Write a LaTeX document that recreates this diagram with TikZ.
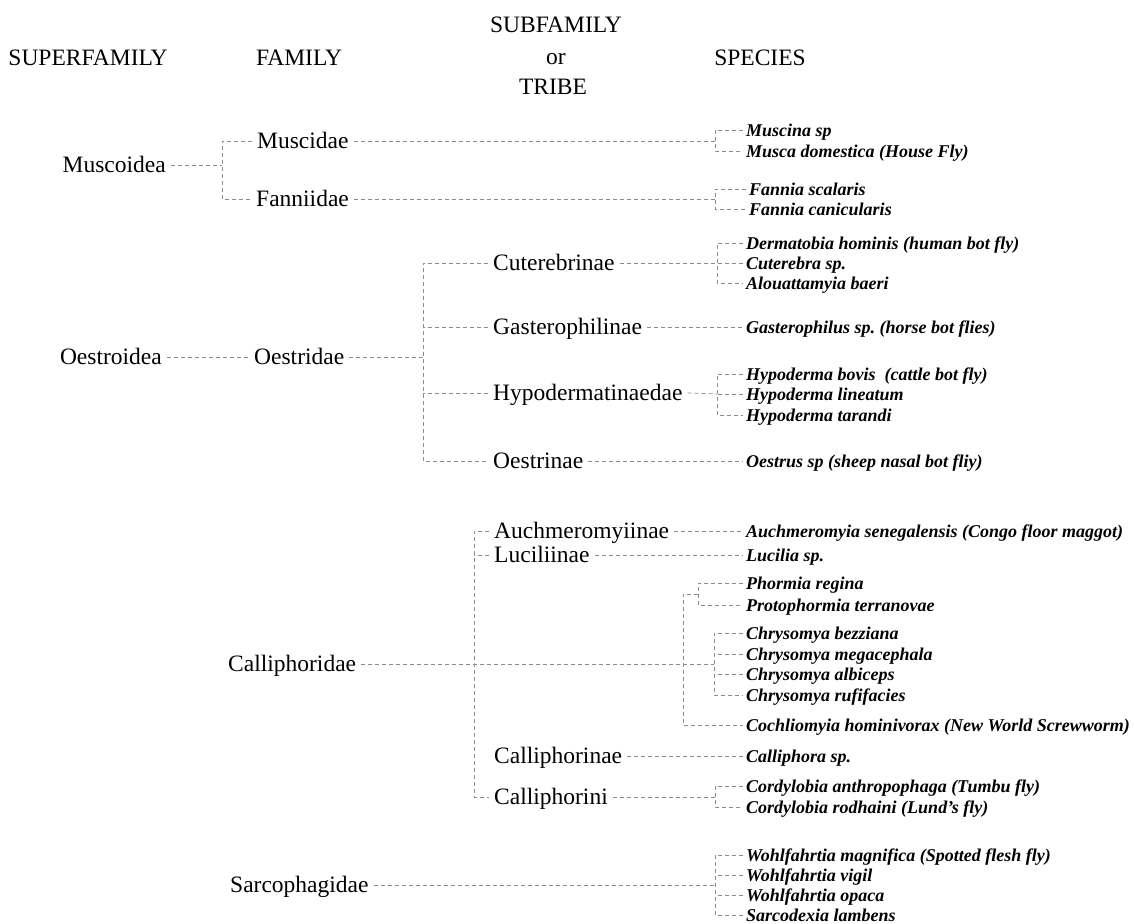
\documentclass[tikz,border=0pt]{standalone}
\usepackage{fontspec}
\setmainfont{Liberation Serif}
\frenchspacing
\tikzset{
  lab/.style={font=\fontsize{23.5}{27}\selectfont, inner ysep=0pt, inner xsep=5pt, text height=15.8pt, text depth=0pt},
  hdr/.style={lab, inner xsep=0pt, anchor=center},
  sp/.style={font=\fontsize{18}{21}\selectfont\bfseries\itshape, inner ysep=0pt, inner xsep=3pt, text height=12.2pt, text depth=0pt, anchor=west},
  ln/.style={draw=black!45, dash pattern=on 4pt off 3pt, line width=0.7pt},
}
\begin{document}
\begin{tikzpicture}[x=1pt,y=-1pt]
\useasboundingbox (0,0) rectangle (1134,923);
% headers
\node[hdr] (hSup) at (88,58) {SUPERFAMILY};
\node[hdr] (hFam) at (299,58) {FAMILY};
\node[hdr] (hSub) at (556,25) {SUBFAMILY};
\node[hdr] (hOr) at (556,57) {or};
\node[hdr] (hTri) at (553,87) {TRIBE};
\node[hdr] (hSpe) at (760,58) {SPECIES};
% superfamilies
\node[lab, anchor=east] (Muscoidea) at (171,165) {Muscoidea};
\node[lab, anchor=east] (Oestroidea) at (167,357) {Oestroidea};
% families
\node[lab, anchor=west] (Muscidae) at (252,141) {Muscidae};
\node[lab, anchor=west] (Fanniidae) at (251,199) {Fanniidae};
\node[lab, anchor=west] (Oestridae) at (249,357) {Oestridae};
\node[lab, anchor=west] (Calliphoridae) at (223,664) {Calliphoridae};
\node[lab, anchor=west] (Sarcophagidae) at (225,885) {Sarcophagidae};
% subfamilies
\node[lab, anchor=west] (Cuterebrinae) at (488,263) {Cuterebrinae};
\node[lab, anchor=west] (Gasterophilinae) at (488,327) {Gasterophilinae};
\node[lab, anchor=west] (Hypodermatinaedae) at (488,393) {Hypodermatinaedae};
\node[lab, anchor=west] (Oestrinae) at (488,461) {Oestrinae};
\node[lab, anchor=west] (Auchmeromyiinae) at (489,531) {Auchmeromyiinae};
\node[lab, anchor=west] (Luciliinae) at (489,555) {Luciliinae};
\node[lab, anchor=west] (Calliphorinae) at (489,756) {Calliphorinae};
\node[lab, anchor=west] (Calliphorini) at (489,797) {Calliphorini};
% species
\node[sp] (sMuscina) at (743,130) {Muscina sp};
\node[sp] (sMusca) at (743,151) {Musca domestica (House Fly)};
\node[sp] (sFanSca) at (746,189) {Fannia scalaris};
\node[sp] (sFanCan) at (746,209) {Fannia canicularis};
\node[sp] (sDerm) at (743,243) {Dermatobia hominis (human bot fly)};
\node[sp] (sCute) at (743,263) {Cuterebra sp.};
\node[sp] (sAlou) at (743,283) {Alouattamyia baeri};
\node[sp] (sGast) at (743,327) {Gasterophilus sp. (horse bot flies)};
\node[sp] (sHypBov) at (743,374) {Hypoderma bovis~ (cattle bot fly)};
\node[sp] (sHypLin) at (743,394) {Hypoderma lineatum};
\node[sp] (sHypTar) at (743,415) {Hypoderma tarandi};
\node[sp] (sOest) at (743,461) {Oestrus sp (sheep nasal bot fliy)};
\node[sp] (sAuch) at (743,531) {Auchmeromyia senegalensis (Congo floor maggot)};
\node[sp] (sLuc) at (743,555) {Lucilia sp.};
\node[sp] (sPhor) at (743,583) {Phormia regina};
\node[sp] (sProt) at (743,605) {Protophormia terranovae};
\node[sp] (sChr1) at (743,633) {Chrysomya bezziana};
\node[sp] (sChr2) at (743,654) {Chrysomya megacephala};
\node[sp] (sChr3) at (743,674) {Chrysomya albiceps};
\node[sp] (sChr4) at (743,695) {Chrysomya rufifacies};
\node[sp] (sCoch) at (743,725) {Cochliomyia hominivorax (New World Screwworm)};
\node[sp] (sCall) at (743,756) {Calliphora sp.};
\node[sp] (sCor1) at (743,786) {Cordylobia anthropophaga (Tumbu fly)};
\node[sp] (sCor2) at (743,807) {Cordylobia rodhaini (Lund's fly)};
\node[sp] (sW1) at (743,855) {Wohlfahrtia magnifica (Spotted flesh fly)};
\node[sp] (sW2) at (743,875) {Wohlfahrtia vigil};
\node[sp] (sW3) at (743,895) {Wohlfahrtia opaca};
\node[sp] (sSarc) at (743,915) {Sarcodexia lambens};
% junctions
\coordinate (jMuscoidea) at (222,165);
\coordinate (jMuscidae) at (715,141);
\coordinate (jFanniidae) at (715,199);
\coordinate (jOestridae) at (423,357);
\coordinate (jCute) at (717,263);
\coordinate (jHypo) at (717,394);
\coordinate (jCalSub) at (474,664);
\coordinate (jCalGen) at (683,664);
\coordinate (jPhor) at (698,594);
\coordinate (jChr) at (714,664);
\coordinate (jCor) at (715,797);
\coordinate (jSar) at (715,885);
% Muscoidea
\draw[ln] (Muscoidea.east) -- (jMuscoidea);
\draw[ln] (Muscidae.west) -| (jMuscoidea) |- (Fanniidae.west);
\draw[ln] (Muscidae.east) -- (jMuscidae);
\draw[ln] (sMuscina.west) -| (jMuscidae) |- (sMusca.west);
\draw[ln] (Fanniidae.east) -- (jFanniidae);
\draw[ln] (sFanSca.west) -| (jFanniidae) |- (sFanCan.west);
% Oestroidea
\draw[ln] (Oestroidea.east) -- (Oestridae.west);
\draw[ln] (Oestridae.east) -- (jOestridae);
\draw[ln] (Cuterebrinae.west) -| (jOestridae) |- (Oestrinae.west);
\draw[ln] (Gasterophilinae.west) -- (Gasterophilinae.west -| jOestridae);
\draw[ln] (Hypodermatinaedae.west) -- (Hypodermatinaedae.west -| jOestridae);
\draw[ln] (Cuterebrinae.east) -- (jCute);
\draw[ln] (sDerm.west) -| (jCute) |- (sAlou.west);
\draw[ln] (sCute.west) -- (jCute);
\draw[ln] (Gasterophilinae.east) -- (sGast.west);
\draw[ln] (Hypodermatinaedae.east) -- (jHypo);
\draw[ln] (sHypBov.west) -| (jHypo) |- (sHypTar.west);
\draw[ln] (sHypLin.west) -- (jHypo);
\draw[ln] (Oestrinae.east) -- (sOest.west);
% Calliphoridae
\draw[ln] (Calliphoridae.east) -- (jChr);
\draw[ln] (Auchmeromyiinae.west) -| (jCalSub) |- (Calliphorini.west);
\draw[ln] (Luciliinae.west) -- (Luciliinae.west -| jCalSub);
\draw[ln] (Auchmeromyiinae.east) -- (sAuch.west);
\draw[ln] (Luciliinae.east) -- (sLuc.west);
\draw[ln] (jPhor) -| (jCalGen) |- (sCoch.west);
\draw[ln] (sPhor.west) -| (jPhor) |- (sProt.west);
\draw[ln] (sChr1.west) -| (jChr) |- (sChr4.west);
\draw[ln] (sChr2.west) -- (sChr2.west -| jChr);
\draw[ln] (sChr3.west) -- (sChr3.west -| jChr);
\draw[ln] (Calliphorinae.east) -- (sCall.west);
\draw[ln] (Calliphorini.east) -- (jCor);
\draw[ln] (sCor1.west) -| (jCor) |- (sCor2.west);
% Sarcophagidae
\draw[ln] (Sarcophagidae.east) -- (jSar);
\draw[ln] (sW1.west) -| (jSar) |- (sSarc.west);
\draw[ln] (sW2.west) -- (sW2.west -| jSar);
\draw[ln] (sW3.west) -- (sW3.west -| jSar);
\end{tikzpicture}
\end{document}
